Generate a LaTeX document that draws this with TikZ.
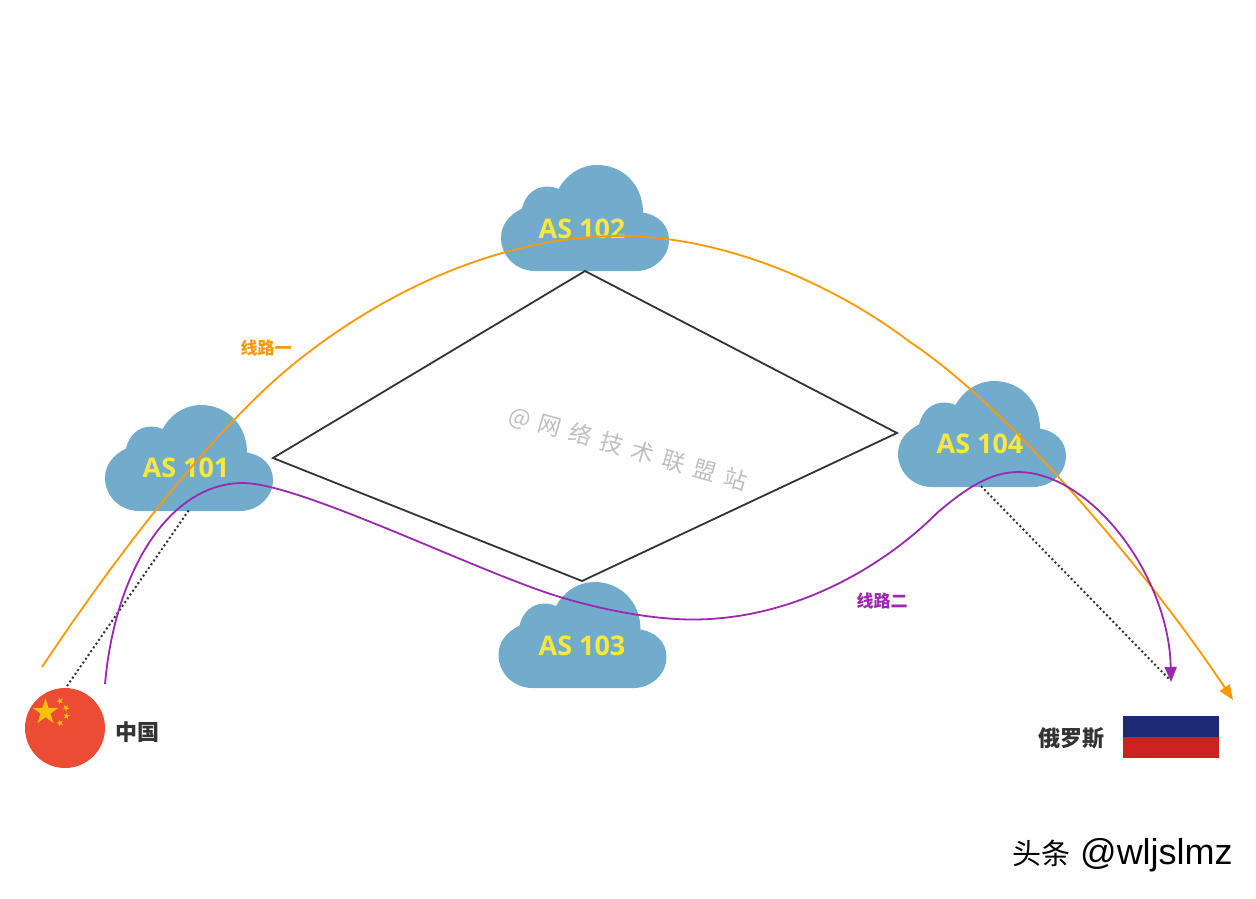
\documentclass[tikz,border=0pt]{standalone}
\usepackage{fontspec}
\setmainfont{Open Sans}
\newfontfamily\cjk{Noto Sans CJK SC}
\newfontfamily\markfont[LetterSpace=40]{Noto Sans CJK SC}
\newfontfamily\latinmark{Liberation Sans}
\usetikzlibrary{arrows.meta, positioning, shapes.geometric}
\definecolor{cloudblue}{HTML}{72ACCD}
\definecolor{aslabel}{HTML}{FBE63C}
\definecolor{routeone}{HTML}{FF9800}
\definecolor{routetwo}{HTML}{9C27B0}
\definecolor{darktext}{HTML}{333333}
\definecolor{cnred}{HTML}{EC4C34}
\definecolor{cnstar}{HTML}{F5C400}
\definecolor{runavy}{HTML}{1B2A75}
\definecolor{rured}{HTML}{CC2222}

\begin{document}
\begin{tikzpicture}[
    x=1pt, y=-1pt,
    aslabelnode/.style={text=aslabel, font=\bfseries\fontsize{27}{29}\selectfont},
    place/.style={text=darktext, font=\cjk\bfseries\fontsize{22}{24}\selectfont},
    routelabel/.style={font=\cjk\bfseries\fontsize{17}{19}\selectfont},
    link/.style={draw=darktext, line width=1.8pt},
    dotlink/.style={draw=darktext, line width=2pt, dash pattern=on 2pt off 2.6pt},
    routeonearrow/.style={draw=routeone, line width=1.8pt, -{Triangle[length=15pt,width=12pt]}},
    routetwoarrow/.style={draw=routetwo, line width=1.8pt, -{Triangle[length=15pt,width=12pt]}},
    bigstar/.style={star, star points=5, star point ratio=2.618, fill=cnstar, inner sep=0pt, minimum size=27pt},
    smallstar/.style={star, star points=5, star point ratio=2.618, fill=cnstar, inner sep=0pt, minimum size=7pt},
    cloudshape/.pic={
        \fill[cloudblue] (34,106) .. controls (15,106) and (0,91) .. (0,73)
            .. controls (0,60) and (8,50) .. (21,43.5)
            .. controls (24,30) and (34,21.5) .. (46,21.5)
            .. controls (50,21.5) and (54,22.5) .. (57.5,24)
            .. controls (66,9) and (80,0) .. (96,0)
            .. controls (122,0) and (142,20) .. (142,47.5)
            .. controls (157,50) and (168,60) .. (168,75)
            .. controls (168,92) and (153,106) .. (135,106) -- cycle;
    }
]
\useasboundingbox (0,0) rectangle (1256,898);
% Clouds
\pic at (105,405) {cloudshape};
\pic at (501,165) {cloudshape};
\pic at (498.5,582) {cloudshape};
\pic at (898,381) {cloudshape};
\node[aslabelnode] (as101) at (186,468) {AS 101};
\node[aslabelnode] (as102) at (582,229) {AS 102};
\node[aslabelnode] (as103) at (582,646) {AS 103};
\node[aslabelnode] (as104) at (980,444) {AS 104};
% Watermark
\node[text=black!25, font=\markfont\fontsize{23}{25}\selectfont, rotate=-16] (mark) at (628,449) {@网络技术联盟站};
% Flags
\node[circle, fill=cnred, minimum size=80pt, inner sep=0pt] (china) at (65,728) {};
\node[bigstar] (star0) at (45.5,712) {};
\node[smallstar, rotate=20] (star1) at (60,701) {};
\node[smallstar, rotate=40] (star2) at (66,708) {};
\node[smallstar, rotate=-10] (star3) at (66.5,716) {};
\node[smallstar, rotate=20] (star4) at (60,723) {};
\node[place, right=6.5pt of china, yshift=-4pt] (cnname) {中国};
\node[minimum width=96pt, minimum height=21pt, inner sep=0pt, fill=runavy] (runorth) at (1171,726.5) {};
\node[minimum width=96pt, minimum height=21pt, inner sep=0pt, fill=rured, below=0pt of runorth] (rusouth) {};
\node[place] (runame) at (1071,738) {俄罗斯};
% Free ends of the connectors
\coordinate (d1) at (273,458);
\coordinate (d2) at (585,271);
\coordinate (d3) at (897,433);
\coordinate (d4) at (582,581);
\coordinate (cnup) at (67,686);
\coordinate (cloudlow) at (189,510);
\coordinate (cloudlowr) at (981,486);
\coordinate (rutop) at (1170,680);
\coordinate (onestart) at (42,667);
\coordinate (oneend) at (1233,700);
\coordinate (twostart) at (105,684);
\coordinate (twoend) at (1171,682);
% Lines
\draw[link] (d1) -- (d2) -- (d3) -- (d4) -- cycle;
\draw[dotlink] (cnup) -- (cloudlow);
\draw[dotlink] (cloudlowr) -- (rutop);
% Routes
\draw[routeonearrow] (onestart) .. controls (130,535) and (220,425) .. (290,367)
    .. controls (370,301) and (490,236) .. (620,236)
    .. controls (725,236) and (835,285) .. (910,342)
    .. controls (1010,408) and (1150,575) .. (oneend);
\draw[routetwoarrow] (twostart) .. controls (115,570) and (170,483) .. (243,483)
    .. controls (300,483) and (480,573) .. (560,597)
    .. controls (600,609) and (650,619.5) .. (693,619.5)
    .. controls (790,619.5) and (880,570) .. (937,513)
    .. controls (965,489) and (990,472) .. (1018,472)
    .. controls (1090,472) and (1169,575) .. (twoend);
% Labels
\node[routelabel, text=routeone] (onelabel) at (266,348) {线路一};
\node[routelabel, text=routetwo] (twolabel) at (882,601) {线路二};
\node[anchor=west, inner sep=0pt] (sign) at (1012,855) {\cjk\fontsize{29}{32}\selectfont 头条\latinmark\fontsize{36}{38}\selectfont\ @wljslmz};
\end{tikzpicture}
\end{document}
